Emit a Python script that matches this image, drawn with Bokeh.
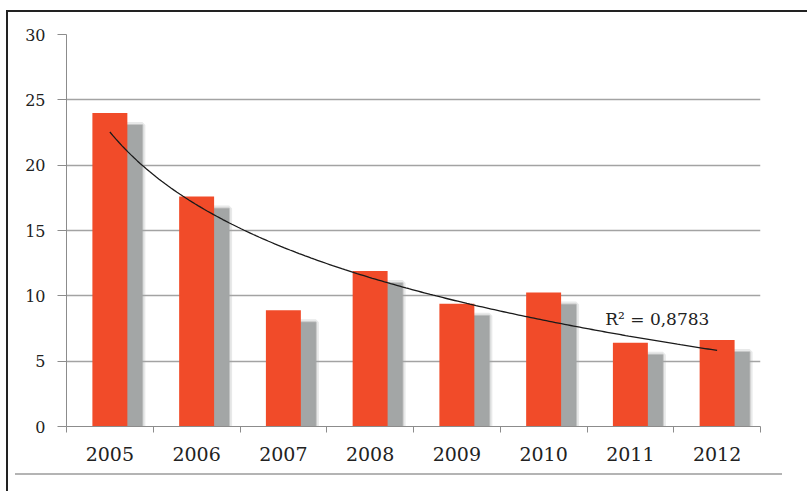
import numpy as np
from bokeh.plotting import figure
from bokeh.models import FixedTicker, Label, Range1d, ColumnDataSource, InlineStyleSheet
from bokeh.embed import file_html
from bokeh.resources import INLINE

# --- data -------------------------------------------------------------
years = ["2005", "2006", "2007", "2008", "2009", "2010", "2011", "2012"]
values = [24.0, 17.6, 8.9, 11.9, 9.4, 10.25, 6.4, 6.62]
y_ticks = [0, 5, 10, 15, 20, 25, 30]
r2_text = "R\u00b2 = 0,8783"

# --- styling ----------------------------------------------------------
BAR_RED = "#f14b29"
SHADOW = "#a3a6a6"
GRID = "#a3a3a3"
AXIS = "#8c8c8c"
TEXT = "#222222"
SERIF = "DejaVu Serif"

n = len(years)
slot = np.arange(n) + 0.5                # centre of each category slot
bounds = np.arange(n + 1).astype(float)  # slot boundaries (tick marks)

p = figure(width=807, height=491, output_backend="svg", toolbar_location=None,
           x_range=Range1d(0, n), y_range=Range1d(0, 30),
           min_border_left=66, min_border_right=47,
           min_border_top=34, min_border_bottom=65)
p.outline_line_color = None
p.background_fill_color = "white"
p.border_fill_color = "white"

# horizontal grid only
p.xgrid.grid_line_color = None
p.ygrid.ticker = FixedTicker(ticks=y_ticks)
p.ygrid.grid_line_color = GRID
p.ygrid.grid_line_width = 1.3

# y axis
ya = p.yaxis[0]
ya.ticker = FixedTicker(ticks=y_ticks)
ya.axis_line_color = AXIS
ya.major_tick_line_color = AXIS
ya.major_tick_out = 9
ya.major_tick_in = 0
ya.minor_tick_line_color = None
ya.major_label_text_font = SERIF
ya.major_label_text_font_size = "16px"
ya.major_label_text_color = TEXT
ya.major_label_standoff = 12

# x axis: labels at slot centres, tick marks on slot boundaries
xa = p.xaxis[0]
xa.ticker = FixedTicker(ticks=list(slot), minor_ticks=list(bounds))
xa.major_label_overrides = {float(c): y for c, y in zip(slot, years)}
xa.axis_line_color = AXIS
xa.major_tick_line_color = None
xa.minor_tick_line_color = AXIS
xa.minor_tick_out = 6
xa.minor_tick_in = 0
xa.major_label_text_font = SERIF
xa.major_label_text_font_size = "19px"
xa.major_label_text_color = TEXT
xa.major_label_standoff = 14

# soft drop shadow behind each bar (shifted right and down)
px_x = 1.0 / 86.75
px_y = 1.0 / 13.07
shadow_src = ColumnDataSource(dict(
    x=slot + 15 * px_x,
    top=np.array(values) - 12 * px_y,
))
p.vbar(x="x", top="top", bottom=0, width=0.403, source=shadow_src,
       fill_color=SHADOW, fill_alpha=0.35, line_color=SHADOW,
       line_alpha=0.25, line_width=6)
p.vbar(x="x", top="top", bottom=0, width=0.403, source=shadow_src,
       fill_color=SHADOW, fill_alpha=1.0, line_color=SHADOW,
       line_alpha=0.5, line_width=2)

# bars
bar_src = ColumnDataSource(dict(x=slot, top=values))
p.vbar(x="x", top="top", bottom=0, width=0.403, source=bar_src,
       fill_color=BAR_RED, line_color=None)

# logarithmic trend line: y = a + b*ln(i), i = 1..n
idx = np.arange(1, n + 1)
b, a = np.polyfit(np.log(idx), np.array(values), 1)
t = np.linspace(1, n, 200)
p.line(t - 0.5, a + b * np.log(t), line_color="#1a1a1a", line_width=1.3)

p.add_layout(Label(x=6.21, y=8.2, text=r2_text, text_font=SERIF,
                   text_font_size="17px", text_color=TEXT,
                   text_baseline="alphabetic"))

# page frame: dark rule on top and left, light rule under the axis labels
frame_css = InlineStyleSheet(css="""
:host { position: relative; }
:host::before {
  content: ""; position: absolute; left: 6px; top: 10px;
  right: -20px; bottom: -20px;
  border-top: 2px solid #222222; border-left: 2px solid #222222;
  pointer-events: none; z-index: 10;
}
:host::after {
  content: ""; position: absolute; left: 15px; top: 473px;
  width: 767px; height: 2px; background: #b4b4b4;
  pointer-events: none; z-index: 10;
}
""")
p.stylesheets = [frame_css]

open("out.html", "w").write(file_html(p, INLINE))
